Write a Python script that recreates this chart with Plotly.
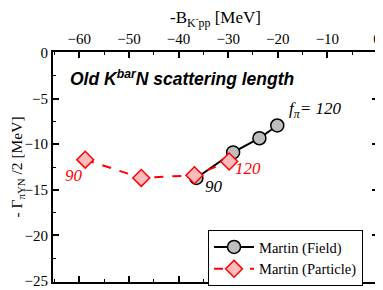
import plotly.graph_objects as go

field_x = [-36.4, -29.0, -23.7, -20.1]
field_y = [-13.7, -10.9, -9.35, -7.95]
particle_x = [-58.8, -47.5, -36.8, -29.8]
particle_y = [-11.7, -13.7, -13.4, -11.9]

x_ticks = [-60, -50, -40, -30, -20, -10, 0]
y_ticks = [0, -5, -10, -15, -20, -25]

serif = "Liberation Serif, Times New Roman, serif"

fig = go.Figure()
fig.add_trace(go.Scatter(
    x=field_x, y=field_y, mode="lines+markers", name="Martin (Field)",
    line=dict(color="black", width=2),
    marker=dict(symbol="circle", size=13, color="#bebebe", line=dict(color="black", width=1.5)),
))
fig.add_trace(go.Scatter(
    x=particle_x, y=particle_y, mode="lines+markers", name="Martin (Particle)",
    line=dict(color="red", width=2, dash="dash"),
    marker=dict(symbol="diamond", size=13, color="#ffbcbc", line=dict(color="red", width=1.5)),
))

axis_common = dict(
    showline=True, linecolor="black", linewidth=2, mirror="allticks",
    ticks="inside", ticklen=6, tickwidth=1.5, tickcolor="black",
    showgrid=False, zeroline=False, automargin=False, ticklabeloverflow="allow",
    tickfont=dict(family=serif, size=15, color="black"),
    minor=dict(ticks="inside", ticklen=3, tickwidth=1, tickcolor="black"),
)

# page body has an 8px default margin, so the plot margins compensate for it
fig.update_layout(
    width=383, height=290,
    margin=dict(l=45, r=13, t=44, b=14),
    paper_bgcolor="white", plot_bgcolor="white",
    xaxis=dict(
        range=[-65.3, 0.2], side="top", tickvals=x_ticks,
        title=dict(text="-B<sub>K<sup>-</sup>pp</sub> [MeV]", font=dict(family=serif, size=17, color="black"), standoff=6),
        minor_dtick=5, **axis_common,
    ),
    yaxis=dict(
        range=[-25.1, 0.1], tickvals=y_ticks,
        title=dict(text="- Γ<sub>πYN</sub> /2 [MeV]", font=dict(family=serif, size=15.5, color="black"), standoff=6),
        minor_dtick=2.5, **axis_common,
    ),
    showlegend=True,
    legend=dict(
        x=0.477, y=0.226, xanchor="left", yanchor="top",
        bordercolor="black", borderwidth=1, bgcolor="white",
        font=dict(family=serif, size=14.5, color="black"),
        tracegroupgap=0, itemwidth=40,
    ),
)

fig.add_annotation(x=0.045, y=0.885, xref="paper", yref="paper", xanchor="left", yanchor="middle",
                   text="<b><i>Old K<sup>bar</sup>N scattering length</i></b>", showarrow=False,
                   font=dict(family="Liberation Sans, Arial, sans-serif", size=17.5, color="black"))
fig.add_annotation(x=-12.5, y=-6.3, text="<i>f<sub>π</sub>= 120</i>", showarrow=False,
                   font=dict(family=serif, size=17, color="black"))
fig.add_annotation(x=-32.8, y=-14.6, text="<i>90</i>", showarrow=False,
                   font=dict(family=serif, size=17, color="black"))
fig.add_annotation(x=-61.1, y=-13.4, text="<i>90</i>", showarrow=False,
                   font=dict(family=serif, size=17, color="red"))
fig.add_annotation(x=-26.0, y=-12.7, text="<i>120</i>", showarrow=False,
                   font=dict(family=serif, size=17, color="red"))

fig.write_html("out.html")
